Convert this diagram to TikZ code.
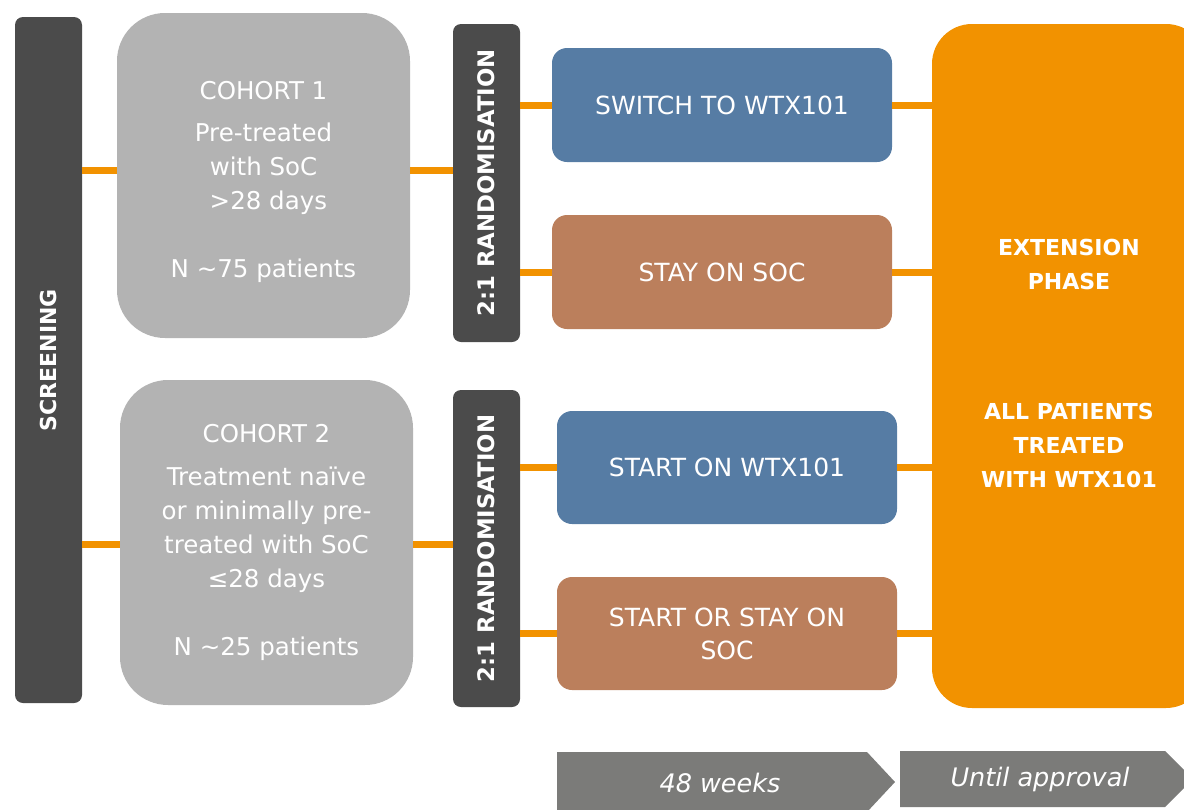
\documentclass[tikz,border=0pt]{standalone}
\usepackage{fontspec}
\setmainfont{DejaVu Sans}
\definecolor{sombre}{HTML}{4B4B4B}
\definecolor{clair}{HTML}{B3B3B3}
\definecolor{bleu}{HTML}{567CA4}
\definecolor{brique}{HTML}{BB7F5C}
\definecolor{orange}{HTML}{F29200}
\definecolor{fleche}{HTML}{7B7B79}
\begin{document}
\begin{tikzpicture}[x=1pt,y=-1pt]
% Styles
 \tikzstyle{barre}=[rectangle,rounded corners=8pt,fill=sombre,text=white,inner sep=0pt,
      rotate=90,minimum height=67pt,font=\bfseries\fontsize{22}{30}\selectfont]
 \tikzstyle{cohorte}=[rectangle,rounded corners=48pt,fill=clair,inner sep=0pt,
      minimum width=293pt,minimum height=325pt]
 \tikzstyle{textecohorte}=[text=white,align=center,font=\fontsize{24.5}{34}\selectfont]
 \tikzstyle{bras}=[rectangle,rounded corners=15pt,text=white,inner sep=0pt,
      minimum width=340pt,minimum height=114pt,align=center,font=\fontsize{25}{33}\selectfont]
 \tikzstyle{lien}=[draw=orange,line width=7pt]
 \tikzstyle{duree}=[fill=fleche]
 \tikzstyle{texteduree}=[text=white,font=\itshape\fontsize{25.5}{30}\selectfont]
 \useasboundingbox (0,0) rectangle (1184,809);
 \clip (0,0) rectangle (1184,809);
% Screening
 \node[barre,minimum width=686pt] (screen) at (48.5,360) {SCREENING};
% Cohorts
 \node[cohorte] (coh1) at (263.5,175.5) {};
 \node[textecohorte] (txt1) at ([yshift=-6pt]coh1.center)
      {COHORT 1\\[8pt]Pre-treated\\with SoC\\\hspace*{0.4em}>28 days\\[34pt]N \textasciitilde75 patients};
 \node[cohorte] (coh2) at (266.5,542.5) {};
 \node[textecohorte] (txt2) at (coh2.center)
      {COHORT 2\\[9pt]Treatment naïve\\or minimally pre-\\treated with SoC\\≤28 days\\[34pt]N \textasciitilde25 patients};
% Randomisation
 \node[barre,minimum width=318pt,font=\bfseries\fontsize{22.8}{30}\selectfont] (rand1) at (486.5,183) {2:1 RANDOMISATION};
 \node[barre,minimum width=317pt,font=\bfseries\fontsize{22.8}{30}\selectfont] (rand2) at (486.5,548.5) {2:1 RANDOMISATION};
% Treatment arms
 \node[bras,fill=bleu] (switch) at (722,105) {SWITCH TO WTX101};
 \node[bras,fill=brique] (stay) at (722,272) {STAY ON SOC};
 \node[bras,fill=bleu,minimum height=113pt] (start) at (727,467.5) {START ON WTX101};
 \node[bras,fill=brique,minimum height=113pt] (startstay) at (727,633.5) {START OR STAY ON\\SOC};
% Extension phase
 \node[rectangle,rounded corners=40pt,fill=orange,inner sep=0pt,
      minimum width=274pt,minimum height=684pt] (ext) at (1069,366) {};
 \node[text=white,align=center,font=\bfseries\fontsize{22}{34}\selectfont] (txtext)
      at ([yshift=3pt]ext.center) {EXTENSION\\PHASE\\[96pt]ALL PATIENTS\\TREATED\\WITH WTX101};
% Liens
 \draw[lien] ([yshift=5pt]screen.south |- coh1.west) -- ([yshift=5pt]coh1.west);
 \draw[lien] ([yshift=5pt]coh1.east) -- ([yshift=5pt]coh1.east -| rand1.north);
 \draw[lien] (rand1.south |- switch.west) -- (switch.west);
 \draw[lien] (rand1.south |- stay.west) -- (stay.west);
 \draw[lien] (switch.east) -- (switch.east -| ext.west);
 \draw[lien] (stay.east) -- (stay.east -| ext.west);
 \draw[lien] ([yshift=-2pt]screen.south |- coh2.west) -- ([yshift=-2pt]coh2.west);
 \draw[lien] ([yshift=-2pt]coh2.east) -- ([yshift=-2pt]coh2.east -| rand2.north);
 \draw[lien] (rand2.south |- start.west) -- (start.west);
 \draw[lien] (rand2.south |- startstay.west) -- (startstay.west);
 \draw[lien] (start.east) -- (start.east -| ext.west);
 \draw[lien] (startstay.east) -- (startstay.east -| ext.west);
% Durees
 \fill[duree] (557,752) -- (867,752) -- (895,782) -- (867,812) -- (557,812) -- cycle;
 \node[texteduree] (semaines) at (720,783) {48 weeks};
 \fill[duree] (900,751) -- (1165,751) -- (1193,779) -- (1165,807) -- (900,807) -- cycle;
 \node[texteduree] (approbation) at (1040,779) {Until approval};
\end{tikzpicture}
\end{document}
